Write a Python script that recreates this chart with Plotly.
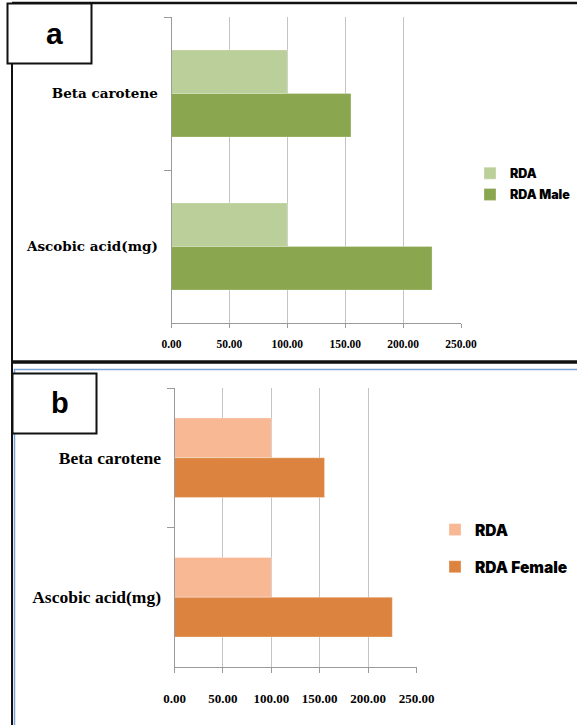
import plotly.graph_objects as go

# ---------------- data ----------------
categories = ["Beta carotene", "Ascobic acid(mg)"]
rda = [100, 100]
rda_male = [155, 225]
rda_female = [155, 225]
x_ticks = [0, 50, 100, 150, 200, 250]

# ---------------- geometry helpers (page pixels -> paper) ----------------
W, H = 577, 725


def fx(px):
    return px / W


def fy(py):
    return 1 - py / H


GRID = "#C4C4C4"
LINE = "#9A9A9A"
SERIF = "Liberation Serif"

fig = go.Figure()

fig.add_trace(go.Bar(y=categories, x=rda, orientation="h", name="RDA",
                     marker=dict(color="#BBCF9A", line=dict(color="rgba(255,255,255,0.5)", width=0.6)),
                     xaxis="x", yaxis="y", legend="legend", legendgroup="a1"))
fig.add_trace(go.Bar(y=categories, x=rda_male, orientation="h", name="RDA Male",
                     marker=dict(color="#8AA64E", line=dict(color="rgba(255,255,255,0.5)", width=0.6)),
                     xaxis="x", yaxis="y", legend="legend", legendgroup="a2"))
fig.add_trace(go.Bar(y=categories, x=rda, orientation="h", name="RDA",
                     marker=dict(color="#F8B894", line=dict(color="rgba(255,255,255,0.5)", width=0.6)),
                     xaxis="x2", yaxis="y2", legend="legend2", legendgroup="b1"))
fig.add_trace(go.Bar(y=categories, x=rda_female, orientation="h", name="RDA Female",
                     marker=dict(color="#DC843F", line=dict(color="rgba(255,255,255,0.5)", width=0.6)),
                     xaxis="x2", yaxis="y2", legend="legend2", legendgroup="b2"))

common_x = dict(range=[0, 250], tickvals=x_ticks, tickformat=".2f", showgrid=True,
                gridcolor=GRID, gridwidth=1, zeroline=False, ticks="outside",
                tickcolor=LINE, showline=True, linecolor=LINE, linewidth=1,
                fixedrange=True, automargin=False)
common_y = dict(type="category", categoryarray=categories, categoryorder="array",
                autorange="reversed", tickson="boundaries", ticks="outside", ticklen=7,
                tickcolor=LINE, showline=True, linecolor=LINE, linewidth=1,
                showgrid=False, zeroline=False, fixedrange=True, automargin=False)

fig.update_layout(
    width=W, height=H, autosize=False,
    margin=dict(l=0, r=0, t=0, b=0, pad=0, autoexpand=False),
    paper_bgcolor="white", plot_bgcolor="white",
    barmode="group", bargap=0.43, bargroupgap=0,
    xaxis=dict(domain=[fx(171.5), fx(461)], anchor="y", ticklen=4, ticklabelstandoff=6,
               tickfont=dict(family=SERIF, size=11.5, color="black", weight="bold"), **common_x),
    yaxis=dict(domain=[fy(323), fy(17)], anchor="x", ticklabelstandoff=10,
               tickfont=dict(family="DejaVu Serif", size=13.5, color="black", weight="bold"), **common_y),
    xaxis2=dict(domain=[fx(174.5), fx(416.5)], anchor="y2", ticklen=5, ticklabelstandoff=14,
                tickfont=dict(family=SERIF, size=13, color="black", weight="bold"), **common_x),
    yaxis2=dict(domain=[fy(667), fy(388)], anchor="x2", ticklabelstandoff=9,
                tickfont=dict(family=SERIF, size=17.5, color="black", weight="bold"), **common_y),
    legend=dict(x=fx(470), y=fy(184), xanchor="left", yanchor="middle",
                bgcolor="rgba(0,0,0,0)", borderwidth=0, tracegroupgap=2, traceorder="grouped",
                font=dict(family="Inter", size=12.5, color="black", weight=900)),
    legend2=dict(x=fx(435), y=fy(548.5), xanchor="left", yanchor="middle",
                 bgcolor="rgba(0,0,0,0)", borderwidth=0, tracegroupgap=14, traceorder="grouped",
                 font=dict(family="Inter", size=15.5, color="black", weight=900)),
)

shapes = [
    # panel a frame
    dict(type="line", x0=fx(12), x1=fx(590), y0=fy(3), y1=fy(3), line=dict(color="#111", width=2.5)),
    dict(type="line", x0=fx(12), x1=fx(12), y0=fy(3), y1=fy(363), line=dict(color="#111", width=2)),
    dict(type="line", x0=fx(12), x1=fx(590), y0=fy(362), y1=fy(362), line=dict(color="#111", width=3.5)),
    # panel b frame
    dict(type="line", x0=fx(12), x1=fx(12), y0=fy(362), y1=fy(730), line=dict(color="#111", width=2)),
    dict(type="rect", x0=fx(14.5), x1=fx(600), y0=fy(369.5), y1=fy(740),
         line=dict(color="#7BA3D6", width=1.5), fillcolor="rgba(0,0,0,0)"),
    # label boxes
    dict(type="rect", x0=fx(7.5), x1=fx(91.5), y0=fy(3.5), y1=fy(63.5),
         line=dict(color="#111", width=2), fillcolor="white"),
    dict(type="rect", x0=fx(12.5), x1=fx(96.5), y0=fy(373.5), y1=fy(433.5),
         line=dict(color="#111", width=2), fillcolor="white"),
]
for s in shapes:
    s.update(xref="paper", yref="paper", layer="above")
fig.update_layout(shapes=shapes)

fig.add_annotation(text="a", x=fx(54.5), y=fy(33), xref="paper", yref="paper",
                   showarrow=False, xanchor="center", yanchor="middle",
                   font=dict(family="Liberation Sans", size=30, color="black", weight="bold"))
fig.add_annotation(text="b", x=fx(59.5), y=fy(403), xref="paper", yref="paper",
                   showarrow=False, xanchor="center", yanchor="middle",
                   font=dict(family="Liberation Sans", size=29, color="black", weight="bold"))

fig.write_html(
    "out.html",
    config={"displayModeBar": False},
    post_script="document.body.style.margin='0';document.body.style.overflow='hidden';",
)
